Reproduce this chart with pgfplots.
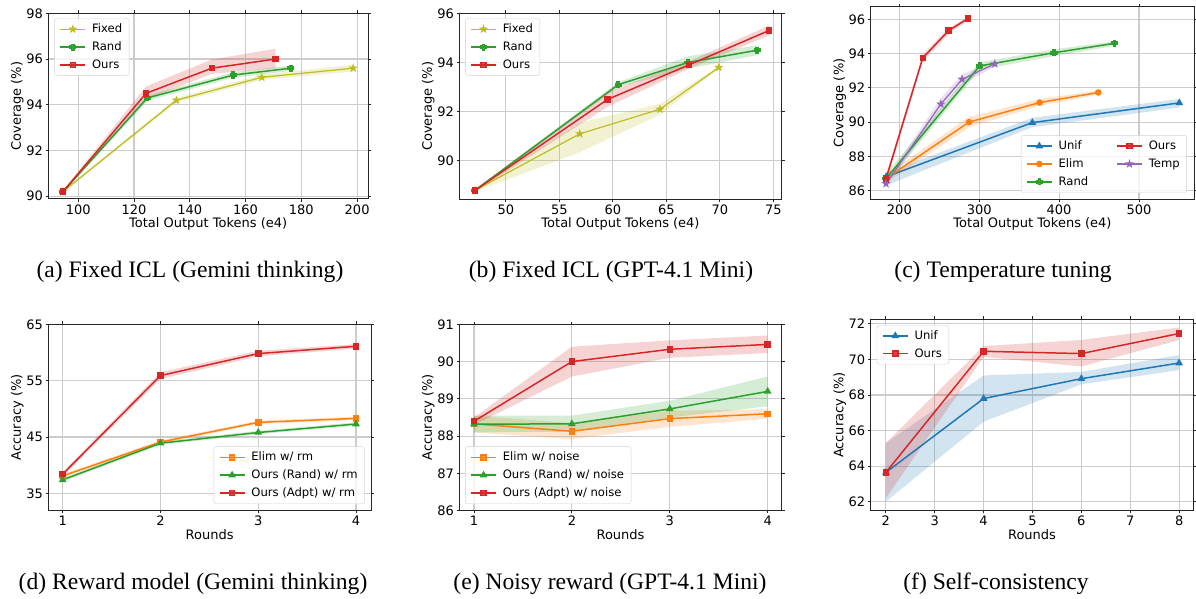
\documentclass[border=0pt]{standalone}
\usepackage{pgfplots}
\pgfplotsset{compat=1.18}
\usepackage{fontspec}
\setmainfont{DejaVu Sans}
\newfontfamily\capfont{Liberation Serif}
\definecolor{tabblue}{HTML}{1F77B4}
\definecolor{taborange}{HTML}{FF7F0E}
\definecolor{tabgreen}{HTML}{2CA02C}
\definecolor{tabred}{HTML}{D62728}
\definecolor{tabpurple}{HTML}{9467BD}
\definecolor{tabolive}{HTML}{BCBD22}
\pgfdeclareplotmark{fstar}{%
  \pgfpathmoveto{\pgfpointpolar{90}{\pgfplotmarksize}}%
  \pgfpathlineto{\pgfpointpolar{126}{0.4\pgfplotmarksize}}%
  \pgfpathlineto{\pgfpointpolar{162}{\pgfplotmarksize}}%
  \pgfpathlineto{\pgfpointpolar{198}{0.4\pgfplotmarksize}}%
  \pgfpathlineto{\pgfpointpolar{234}{\pgfplotmarksize}}%
  \pgfpathlineto{\pgfpointpolar{270}{0.4\pgfplotmarksize}}%
  \pgfpathlineto{\pgfpointpolar{306}{\pgfplotmarksize}}%
  \pgfpathlineto{\pgfpointpolar{342}{0.4\pgfplotmarksize}}%
  \pgfpathlineto{\pgfpointpolar{18}{\pgfplotmarksize}}%
  \pgfpathlineto{\pgfpointpolar{54}{0.4\pgfplotmarksize}}%
  \pgfpathclose\pgfusepathqfillstroke}
\pgfdeclareplotmark{fplus}{%
  \pgfpathmoveto{\pgfqpoint{-0.4\pgfplotmarksize}{\pgfplotmarksize}}%
  \pgfpathlineto{\pgfqpoint{0.4\pgfplotmarksize}{\pgfplotmarksize}}%
  \pgfpathlineto{\pgfqpoint{0.4\pgfplotmarksize}{0.4\pgfplotmarksize}}%
  \pgfpathlineto{\pgfqpoint{\pgfplotmarksize}{0.4\pgfplotmarksize}}%
  \pgfpathlineto{\pgfqpoint{\pgfplotmarksize}{-0.4\pgfplotmarksize}}%
  \pgfpathlineto{\pgfqpoint{0.4\pgfplotmarksize}{-0.4\pgfplotmarksize}}%
  \pgfpathlineto{\pgfqpoint{0.4\pgfplotmarksize}{-\pgfplotmarksize}}%
  \pgfpathlineto{\pgfqpoint{-0.4\pgfplotmarksize}{-\pgfplotmarksize}}%
  \pgfpathlineto{\pgfqpoint{-0.4\pgfplotmarksize}{-0.4\pgfplotmarksize}}%
  \pgfpathlineto{\pgfqpoint{-\pgfplotmarksize}{-0.4\pgfplotmarksize}}%
  \pgfpathlineto{\pgfqpoint{-\pgfplotmarksize}{0.4\pgfplotmarksize}}%
  \pgfpathlineto{\pgfqpoint{-0.4\pgfplotmarksize}{0.4\pgfplotmarksize}}%
  \pgfpathclose\pgfusepathqfillstroke}
\pgfplotsset{
  myax/.style={
    scale only axis, anchor=south west,
    axis line style={black!85, line width=1pt},
    grid=major, grid style={gray!40, line width=1.1pt},
    tick align=outside, major tick length=2.8pt,
    tick style={black!85, line width=0.9pt},
    ticklabel style={font=\fontsize{13}{15}\selectfont, inner sep=2.5pt},
    every axis x label/.style={at={(axis description cs:0.5,0)}, yshift=-18.5pt, anchor=north, inner sep=0pt, font=\fontsize{13}{15}\selectfont},
    every axis y label/.style={at={(axis description cs:0,0.5)}, xshift=-31pt, rotate=90, anchor=center, inner sep=0pt, font=\fontsize{13}{15}\selectfont},
    /pgf/number format/assume math mode=true,
    legend cell align=left,
    legend style={font=\fontsize{11.6}{13.5}\selectfont, draw=gray!35, rounded corners=2.5pt,
      fill=white, fill opacity=0.8, text opacity=1, draw opacity=1, inner xsep=5pt, inner ysep=3.5pt,
      row sep=3.6pt, /tikz/every odd column/.append style={column sep=4pt}},
    legend image code/.code={\draw[mark repeat=2,mark phase=2] plot coordinates {(0pt,0pt) (12.5pt,0pt) (25pt,0pt)};},
  },
  ln/.style={line width=1.5pt, mark options={solid}},
  band/.style={draw=none, fill=#1, fill opacity=0.2, forget plot},
}
\begin{document}
\begin{tikzpicture}
\useasboundingbox (0,0) rectangle (1196pt,599pt);
% ---------------- (a)
\begin{axis}[myax, at={(48.3pt,400pt)}, width=319.7pt, height=185.7pt,
  xmin=89.25, xmax=203.9, ymin=89.88, ymax=98,
  xtick={100,120,140,160,180,200}, ytick={90,92,94,96,98},
  xlabel={Total Output Tokens (e4)}, ylabel={Coverage (\%)},
  legend style={at={(0.019,0.973)}, anchor=north west}]
\addplot[band=tabolive] coordinates {(94.5,90.25) (135.2,94.3) (165.8,95.32) (198.6,95.75) (198.6,95.45) (165.8,95.08) (135.2,94.1) (94.5,90.15)} -- cycle;
\addplot[band=tabgreen] coordinates {(94.5,90.25) (124.8,94.42) (155.6,95.42) (176.2,95.72) (176.2,95.48) (155.6,95.18) (124.8,94.18) (94.5,90.15)} -- cycle;
\addplot[band=tabred] coordinates {(94.5,90.25) (124.3,94.8) (147.9,95.98) (170.8,96.45) (170.8,95.6) (147.9,95.35) (124.3,94.25) (94.5,90.15)} -- cycle;
\addplot[ln, tabolive, line width=1.2pt, mark=fstar, mark size=3pt] coordinates {(94.5,90.2) (135.2,94.2) (165.8,95.2) (198.6,95.6)};
\addlegendentry{Fixed}
\addplot[ln, tabgreen, mark=fplus, mark size=2.8pt] coordinates {(94.5,90.2) (124.8,94.3) (155.6,95.3) (176.2,95.6)};
\addlegendentry{Rand}
\addplot[ln, tabred, mark=square*, mark size=2.5pt] coordinates {(94.5,90.2) (124.3,94.5) (147.9,95.6) (170.8,96.0)};
\addlegendentry{Ours}
\end{axis}
% ---------------- (b)
\begin{axis}[myax, at={(459.3pt,399.7pt)}, width=322.4pt, height=186pt,
  xmin=45.64, xmax=75.78, ymin=88.44, ymax=96,
  xtick={50,55,60,65,70,75}, ytick={90,92,94,96},
  xlabel={Total Output Tokens (e4)}, ylabel={Coverage (\%)},
  legend style={at={(0.018,0.973)}, anchor=north west}]
\addplot[band=tabolive] coordinates {(47.1,88.85) (56.9,91.55) (64.4,92.32) (69.9,93.85) (69.9,93.75) (64.4,91.88) (56.9,90.35) (47.1,88.75)} -- cycle;
\addplot[band=tabgreen] coordinates {(47.1,88.85) (60.5,93.2) (67.0,94.25) (73.5,94.7) (73.5,94.3) (67.0,93.75) (60.5,93.0) (47.1,88.75)} -- cycle;
\addplot[band=tabred] coordinates {(47.1,88.85) (59.5,92.8) (67.1,94.05) (74.6,95.5) (74.6,95.1) (67.1,93.75) (59.5,92.2) (47.1,88.75)} -- cycle;
\addplot[ln, tabolive, line width=1.2pt, mark=fstar, mark size=3pt] coordinates {(47.1,88.8) (56.9,91.1) (64.4,92.1) (69.9,93.8)};
\addlegendentry{Fixed}
\addplot[ln, tabgreen, mark=fplus, mark size=2.8pt] coordinates {(47.1,88.8) (60.5,93.1) (67.0,94.0) (73.5,94.5)};
\addlegendentry{Rand}
\addplot[ln, tabred, mark=square*, mark size=2.5pt] coordinates {(47.1,88.8) (59.5,92.5) (67.1,93.9) (74.6,95.3)};
\addlegendentry{Ours}
\end{axis}
% ---------------- (c)
\begin{axis}[myax, at={(870.7pt,399.7pt)}, width=323.6pt, height=192.6pt,
  xmin=164.1, xmax=569.3, ymin=85.49, ymax=96.74,
  xtick={200,300,400,500}, ytick={86,88,90,92,94,96},
  xlabel={Total Output Tokens (e4)}, ylabel={Coverage (\%)},
  legend columns=2,
  legend style={at={(0.977,0.034)}, anchor=south east, /tikz/column 2/.style={column sep=26pt}}]
\addplot[band=tabblue] coordinates {(183.3,87.05) (366.5,90.25) (550.5,91.35) (550.5,90.85) (366.5,89.7) (183.3,86.3)} -- cycle;
\addplot[band=taborange] coordinates {(183.3,86.95) (287.2,90.3) (375.6,91.35) (449.0,91.85) (449.0,91.6) (375.6,90.95) (287.2,89.7) (183.3,86.45)} -- cycle;
\addplot[band=tabgreen] coordinates {(183.3,87.0) (300.6,93.5) (393.6,94.25) (469.5,94.72) (469.5,94.45) (393.6,93.85) (300.6,93.05) (183.3,86.4)} -- cycle;
\addplot[band=tabred] coordinates {(183.3,86.95) (229.3,93.95) (261.8,95.5) (286.1,96.15) (286.1,95.95) (261.8,95.15) (229.3,93.55) (183.3,86.45)} -- cycle;
\addplot[band=tabpurple] coordinates {(183.3,86.6) (251.9,91.4) (278.5,92.8) (319.5,93.55) (319.5,93.25) (278.5,92.2) (251.9,90.7) (183.3,86.2)} -- cycle;
\addplot[ln, tabblue, mark=triangle*, mark size=3pt, forget plot] coordinates {(183.3,86.8) (366.5,89.97) (550.5,91.12)};
\addplot[ln, taborange, mark=*, mark size=2.5pt, forget plot] coordinates {(183.3,86.7) (287.2,90.0) (375.6,91.14) (449.0,91.73)};
\addplot[ln, tabgreen, mark=fplus, mark size=2.8pt, forget plot] coordinates {(183.3,86.7) (300.6,93.28) (393.6,94.05) (469.5,94.6)};
\addplot[ln, tabred, mark=square*, mark size=2.5pt, forget plot] coordinates {(183.3,86.7) (229.3,93.75) (261.8,95.35) (286.1,96.05)};
\addplot[ln, tabpurple, line width=1.2pt, mark=fstar, mark size=3pt, forget plot] coordinates {(183.3,86.4) (251.9,91.05) (278.5,92.5) (319.5,93.4)};
\addlegendimage{ln, tabblue, mark=triangle*, mark size=3pt}
\addlegendentry{Unif}
\addlegendimage{ln, tabred, mark=square*, mark size=2.5pt}
\addlegendentry{Ours}
\addlegendimage{ln, taborange, mark=*, mark size=2.5pt}
\addlegendentry{Elim}
\addlegendimage{ln, tabpurple, line width=1.2pt, mark=fstar, mark size=3pt}
\addlegendentry{Temp}
\addlegendimage{ln, tabgreen, mark=fplus, mark size=2.8pt}
\addlegendentry{Rand}
\end{axis}
% ---------------- (d)
\begin{axis}[myax, at={(48.3pt,88.3pt)}, width=322.7pt, height=186.4pt,
  xmin=0.853, xmax=4.153, ymin=31.92, ymax=65,
  xtick={1,2,3,4}, ytick={35,45,55,65},
  xlabel={Rounds}, ylabel={Accuracy (\%)},
  legend style={at={(0.981,0.036)}, anchor=south east}]
\addplot[band=taborange] coordinates {(1,38.4) (2,44.4) (3,47.9) (4,48.6) (4,48.0) (3,47.3) (2,43.8) (1,37.8)} -- cycle;
\addplot[band=tabgreen] coordinates {(1,37.7) (2,44.2) (3,46.1) (4,47.6) (4,47.0) (3,45.5) (2,43.6) (1,37.1)} -- cycle;
\addplot[band=tabred] coordinates {(1,38.8) (2,56.5) (3,60.3) (4,61.5) (4,60.7) (3,59.3) (2,55.3) (1,38.0)} -- cycle;
\addplot[ln, taborange, mark=square*, mark size=2.5pt] coordinates {(1,38.1) (2,44.1) (3,47.6) (4,48.3)};
\addlegendentry{Elim w/ rm}
\addplot[ln, tabgreen, mark=triangle*, mark size=3pt] coordinates {(1,37.4) (2,43.9) (3,45.8) (4,47.3)};
\addlegendentry{Ours (Rand) w/ rm}
\addplot[ln, tabred, mark=square*, mark size=2.5pt] coordinates {(1,38.4) (2,55.9) (3,59.8) (4,61.1)};
\addlegendentry{Ours (Adpt) w/ rm}
\end{axis}
% ---------------- (e)
\begin{axis}[myax, at={(459.3pt,88.3pt)}, width=322.4pt, height=186.4pt,
  xmin=0.85, xmax=4.143, ymin=86, ymax=91,
  xtick={1,2,3,4}, ytick={86,87,88,89,90,91},
  xlabel={Rounds}, ylabel={Accuracy (\%)},
  legend style={at={(0.018,0.036)}, anchor=south west}]
\addplot[band=taborange] coordinates {(1,88.55) (2,88.35) (3,88.68) (4,88.72) (4,88.47) (3,88.25) (2,87.92) (1,88.1)} -- cycle;
\addplot[band=tabgreen] coordinates {(1,88.55) (2,88.55) (3,88.95) (4,89.6) (4,88.8) (3,88.5) (2,88.12) (1,88.1)} -- cycle;
\addplot[band=tabred] coordinates {(1,88.5) (2,90.4) (3,90.57) (4,90.7) (4,90.23) (3,90.1) (2,89.6) (1,88.3)} -- cycle;
\addplot[ln, taborange, mark=square*, mark size=2.5pt] coordinates {(1,88.33) (2,88.13) (3,88.47) (4,88.6)};
\addlegendentry{Elim w/ noise}
\addplot[ln, tabgreen, mark=triangle*, mark size=3pt] coordinates {(1,88.32) (2,88.33) (3,88.73) (4,89.2)};
\addlegendentry{Ours (Rand) w/ noise}
\addplot[ln, tabred, mark=square*, mark size=2.5pt] coordinates {(1,88.4) (2,90.0) (3,90.33) (4,90.46)};
\addlegendentry{Ours (Adpt) w/ noise}
\end{axis}
% ---------------- (f)
\begin{axis}[myax, at={(870.7pt,88.3pt)}, width=322.6pt, height=191.4pt,
  xmin=1.69, xmax=8.29, ymin=61.49, ymax=72.26,
  xtick={2,3,4,5,6,7,8}, ytick={62,64,66,68,70,72},
  xlabel={Rounds}, ylabel={Accuracy (\%)},
  legend style={at={(0.019,0.970)}, anchor=north west}]
\addplot[band=tabblue] coordinates {(2,65.3) (4,69.1) (6,69.3) (8,70.25) (8,69.4) (6,68.6) (4,66.5) (2,62.0)} -- cycle;
\addplot[band=tabred] coordinates {(2,65.3) (4,70.75) (6,71.1) (8,71.8) (8,71.1) (6,69.6) (4,70.15) (2,62.2)} -- cycle;
\addplot[ln, tabblue, mark=triangle*, mark size=3pt] coordinates {(2,63.64) (4,67.8) (6,68.92) (8,69.8)};
\addlegendentry{Unif}
\addplot[ln, tabred, mark=square*, mark size=2.5pt] coordinates {(2,63.64) (4,70.46) (6,70.33) (8,71.46)};
\addlegendentry{Ours}
\end{axis}
% ---------------- captions
\begin{scope}[every node/.style={anchor=base, font=\capfont\fontsize{23.6}{28}\selectfont, inner sep=0pt}]
\node at (190pt,321.2pt) {(a) Fixed ICL (Gemini thinking)};
\node at (611pt,321.2pt) {(b) Fixed ICL (GPT-4.1 Mini)};
\node at (1003pt,321.2pt) {(c) Temperature tuning};
\node at (193pt,9.5pt) {(d) Reward model (Gemini thinking)};
\node at (610pt,9.5pt) {(e) Noisy reward (GPT-4.1 Mini)};
\node at (996pt,9.5pt) {(f) Self-consistency};
\end{scope}
\end{tikzpicture}
\end{document}
